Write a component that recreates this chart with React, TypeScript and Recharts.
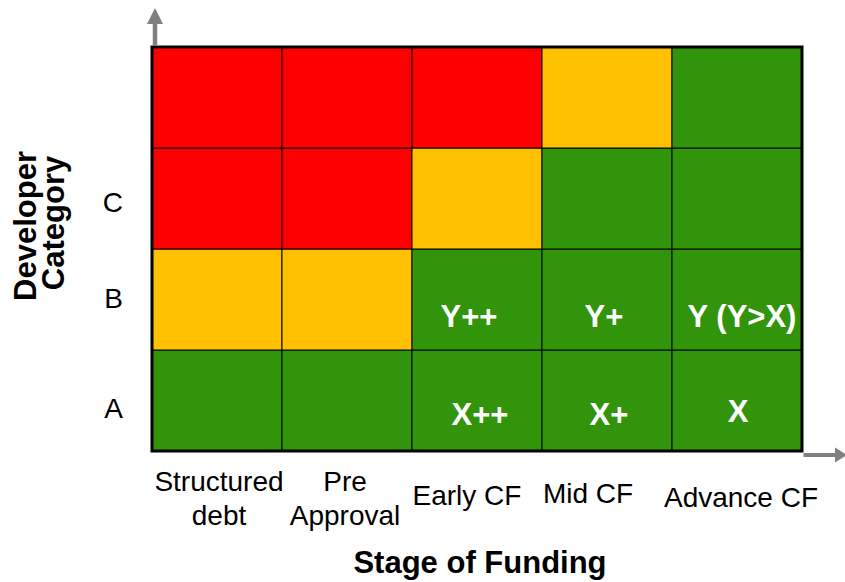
import React from "react";
import { Bar, BarChart, Cell, Label, LabelList, XAxis, YAxis } from "recharts";

// columns, left to right
const stages = ["Structured\ndebt", "Pre\nApproval", "Early CF", "Mid CF", "Advance CF"];
// rows, bottom to top (top row has no label)
const categories = ["A", "B", "C", ""];
// risk level of each cell per row
const rowA = ["low", "low", "low", "low", "low"];
const rowB = ["mid", "mid", "low", "low", "low"];
const rowC = ["high", "high", "mid", "low", "low"];
const rowTop = ["high", "high", "high", "mid", "low"];
// text written in cells
const textA = ["", "", "X++", "X+", "X"];
const textB = ["", "", "Y++", "Y+", "Y (Y>X)"];

const palette: Record<string, string> = {
  low: "#31940A",
  mid: "#FFC000",
  high: "#FF0000",
};

const FONT = '"Liberation Sans", Arial, Helvetica, sans-serif';
const W = 845;
const H = 582;
const MARGIN = { top: 47, right: 43, bottom: 0, left: 0 };
const Y_AXIS_W = 152;
const X_AXIS_H = 131;
const PLOT_RIGHT = W - MARGIN.right;
const PLOT_BOTTOM = H - MARGIN.bottom - X_AXIS_H;

const data = stages.map((stage, i) => ({
  stage,
  A: 1,
  B: 1,
  C: 1,
  D: 1,
  textA: textA[i],
  textB: textB[i],
}));

const rows = [
  { key: "A", levels: rowA },
  { key: "B", levels: rowB },
  { key: "C", levels: rowC },
  { key: "D", levels: rowTop },
];

// small nudges so labels sit where the original text boxes were
const stageNudge = [
  [2, 3],
  [-2, 3],
  [-10, 0],
  [-19, -2],
  [4, 2],
];
const catNudge = [7, -2, 3];
const nudgeA = [[0, 0], [0, 0], [3, 24], [2, 24], [1, 21]];
const nudgeB = [[0, 0], [0, 0], [-8, 27], [-3, 27], [5, 27]];

function StageTick(props: any) {
  const { x, y, payload, index } = props;
  const lines = String(payload.value).split("\n");
  const [dx, dy] = stageNudge[index] ?? [0, 0];
  const base = y + 54 + dy;
  return (
    <text textAnchor="middle" fontSize={28} fill="#000" fontFamily={FONT}>
      {lines.map((l, i) => (
        <tspan key={i} x={x + dx} y={base + (i - (lines.length - 1) / 2) * 34}>
          {l}
        </tspan>
      ))}
    </text>
  );
}

function CategoryTick(props: any) {
  const { x, y, payload, index } = props;
  return (
    <text
      x={x}
      y={y + 10 + (catNudge[index] ?? 0)}
      textAnchor="end"
      fontSize={28}
      fill="#000"
      fontFamily={FONT}
    >
      {categories[Math.floor(payload.value)]}
    </text>
  );
}

function CategoryTitle(props: any) {
  const vb = props.viewBox;
  const cy = vb && vb.height ? vb.y + vb.height / 2 - 24 : 225;
  const common = {
    textAnchor: "middle" as const,
    fontSize: 31,
    fontWeight: "bold",
    fill: "#000",
    fontFamily: FONT,
  };
  return (
    <g>
      <text transform={`translate(35.5, ${cy + 1}) rotate(-90)`} {...common}>
        Developer
      </text>
      <text transform={`translate(64, ${cy - 2}) rotate(-90)`} {...common}>
        Category
      </text>
    </g>
  );
}

function cellLabel(nudge: number[][]) {
  return (p: any) => {
    const { value, index } = p;
    if (!value) return null;
    const vb = p.viewBox ?? p;
    const [dx, dy] = nudge[index] ?? [0, 0];
    return (
      <text
        x={vb.x + vb.width / 2 + dx}
        y={vb.y + vb.height / 2 + dy}
        textAnchor="middle"
        fontSize={31}
        fontWeight="bold"
        fill="#fff"
        fontFamily={FONT}
      >
        {value}
      </text>
    );
  };
}

function Arrows() {
  const grey = "#808080";
  const ax = Y_AXIS_W + 3;
  const ay = PLOT_BOTTOM + 4;
  return (
    <svg
      width={W}
      height={H}
      style={{ position: "absolute", left: 0, top: 0, pointerEvents: "none" }}
    >
      <rect
        x={Y_AXIS_W}
        y={MARGIN.top}
        width={PLOT_RIGHT - Y_AXIS_W}
        height={PLOT_BOTTOM - MARGIN.top}
        fill="none"
        stroke="#000"
        strokeWidth={3}
      />
      <line x1={ax} y1={MARGIN.top - 1.5} x2={ax} y2={23} stroke={grey} strokeWidth={4.5} />
      <polygon points={`${ax - 8},24 ${ax + 8},24 ${ax},8`} fill={grey} />
      <line x1={PLOT_RIGHT + 1.5} y1={ay} x2={836} y2={ay} stroke={grey} strokeWidth={4} />
      <polygon points={`835,${ay - 7.5} 835,${ay + 7.5} 847,${ay}`} fill={grey} />
    </svg>
  );
}

export default function App() {
  return (
    <div style={{ position: "absolute", left: 0, top: 0, width: W, height: H, background: "#fff" }}>
      <BarChart
        width={W}
        height={H}
        data={data}
        margin={MARGIN}
        barCategoryGap={0}
        barGap={0}
      >
        <XAxis
          dataKey="stage"
          type="category"
          height={X_AXIS_H}
          interval={0}
          tickLine={false}
          axisLine={false}
          tickSize={0}
          tickMargin={0}
          tick={<StageTick />}
        >
          <Label
            value="Stage of Funding"
            position="insideBottom"
            offset={9}
            dx={3}
            fontSize={31}
            fontWeight="bold"
            fill="#000"
            fontFamily={FONT}
          />
        </XAxis>
        <YAxis
          type="number"
          domain={[0, 4]}
          ticks={[0.5, 1.5, 2.5]}
          width={Y_AXIS_W}
          tickLine={false}
          axisLine={false}
          tickSize={0}
          tickMargin={29}
          tick={<CategoryTick />}
        >
          <Label content={<CategoryTitle />} />
        </YAxis>
        {rows.map((r) => (
          <Bar key={r.key} dataKey={r.key} stackId="grid" isAnimationActive={false}>
            {r.levels.map((lv, i) => (
              <Cell key={i} fill={palette[lv]} stroke="#000" strokeWidth={1} />
            ))}
            {r.key === "A" && (
              <LabelList dataKey="textA" content={cellLabel(nudgeA)} />
            )}
            {r.key === "B" && (
              <LabelList dataKey="textB" content={cellLabel(nudgeB)} />
            )}
          </Bar>
        ))}
      </BarChart>
      <Arrows />
    </div>
  );
}
